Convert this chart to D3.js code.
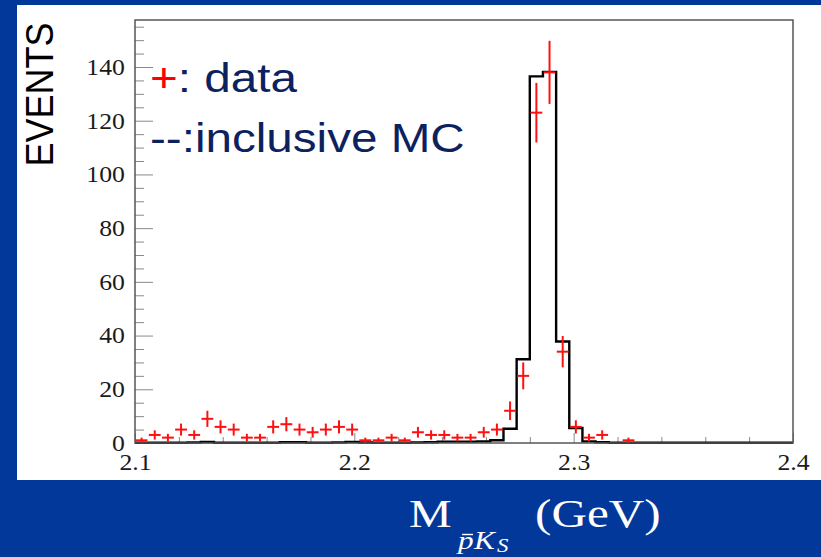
<!DOCTYPE html>
<html>
<head>
<meta charset="utf-8">
<script src="https://cdn.jsdelivr.net/npm/d3@7"></script>
<style>
  html, body { margin: 0; padding: 0; background: #03389b; overflow: hidden; }
  svg { display: block; }
</style>
</head>
<body>
<svg id="chart" width="821" height="557"></svg>
<script>
// Invariant mass histogram: 50 bins of 6 MeV between 2.1 and 2.4 GeV
const massLow = 2.1;
const massHigh = 2.4;
const binWidth = 0.006;

// Observed events per bin
const dataCounts = [
  1, 3, 2, 5, 3, 9, 6, 5, 2, 2,
  6, 7, 5, 4, 5, 6, 5, 1, 1, 2,
  1, 4, 3, 3, 2, 2, 4, 5, 12, 25,
  123, 138, 34, 6, 2, 3, 0, 1, 0, 0,
  0, 0, 0, 0, 0, 0, 0, 0, 0, 0
];

// Inclusive MC expectation per bin (normalised)
const mcCounts = [
  0.1, 0.1, 0.1, 0.1, 0.2, 0.4, 0.1, 0.1, 0.1, 0.1,
  0.1, 0.3, 0.3, 0.1, 0.1, 0.2, 0.4, 0.2, 0.1, 0.1,
  0.1, 0.2, 0.3, 0.5, 0.5, 0.5, 0.6, 1.0, 5.3, 31.2,
  136.5, 138.2, 37.8, 5.6, 0.6, 0.3, 0.1, 0.1, 0.1, 0.1,
  0.1, 0.1, 0.1, 0.1, 0.1, 0.1, 0.1, 0.1, 0.1, 0.1
];

const xMajorTicks = [2.1, 2.2, 2.3, 2.4];
const xMinorTicks = [2.12, 2.14, 2.16, 2.18, 2.22, 2.24, 2.26, 2.28, 2.32, 2.34, 2.36, 2.38];
const yMajorTicks = [0, 20, 40, 60, 80, 100, 120, 140];
const yMinorTicks = [5, 10, 15, 25, 30, 35, 45, 50, 55, 65, 70, 75, 85, 90, 95,
                     105, 110, 115, 125, 130, 135, 145, 150, 155];

const yLabel = "EVENTS";
const legendData = ": data";
const legendMC = "--:inclusive MC";

const svg = d3.select("#chart");
const W = 821, H = 557;
const stretch = 1.12;   // slide text is set slightly wide

// Slide background and white figure panel
svg.append("rect").attr("x", 0).attr("y", 0).attr("width", W).attr("height", H).attr("fill", "#03389b");
svg.append("rect").attr("x", 17).attr("y", 5).attr("width", 804).attr("height", 475).attr("fill", "#ffffff");

const frame = { left: 135, right: 793, top: 20, bottom: 443 };
const x = d3.scaleLinear().domain([massLow, massHigh]).range([frame.left, frame.right]);
const y = d3.scaleLinear().domain([0, 157.5]).range([frame.bottom, frame.top]);

// --- axes ---
const axisColor = "#8a8a8a";
const gx = svg.append("g").attr("transform", `translate(0,${frame.bottom})`);
gx.append("g").call(d3.axisBottom(x).tickValues(xMinorTicks).tickSize(-6).tickFormat(""))
  .call(g => g.select(".domain").remove());
gx.append("g").call(d3.axisBottom(x).tickValues(xMajorTicks).tickSize(-10).tickPadding(11)
    .tickFormat(d3.format(".1f")))
  .call(g => g.select(".domain").remove());
gx.selectAll("line").attr("stroke", axisColor).attr("stroke-width", 1);

const gy = svg.append("g").attr("transform", `translate(${frame.left},0)`);
gy.append("g").call(d3.axisLeft(y).tickValues(yMinorTicks).tickSize(-9).tickFormat(""))
  .call(g => g.select(".domain").remove());
gy.append("g").call(d3.axisLeft(y).tickValues(yMajorTicks).tickSize(-18).tickPadding(9)
    .tickFormat(d3.format("d")))
  .call(g => g.select(".domain").remove());
gy.selectAll("line").attr("stroke", axisColor).attr("stroke-width", 1);

svg.selectAll(".tick text")
  .attr("font-family", "'Liberation Serif', 'Times New Roman', serif")
  .attr("font-size", 23)
  .attr("fill", "#1a1a1a")
  .attr("transform", `scale(${stretch},1)`);

// --- inclusive MC histogram (step outline) ---
const edges = mcCounts.map((v, i) => [massLow + i * binWidth, v]);
edges.push([massHigh, mcCounts[mcCounts.length - 1]]);
const stepLine = d3.line().x(d => x(d[0])).y(d => y(d[1])).curve(d3.curveStepAfter);
svg.append("path")
  .attr("d", stepLine(edges))
  .attr("fill", "none")
  .attr("stroke", "#000")
  .attr("stroke-width", 2.4)
  .attr("stroke-linejoin", "miter");

// --- data points with sqrt(N) error bars ---
const points = dataCounts
  .map((n, i) => ({ m: massLow + (i + 0.5) * binWidth, n }))
  .filter(d => d.n > 0);
const halfW = binWidth * 0.45;
const gData = svg.append("g").attr("stroke", "#ff1010").attr("stroke-width", 2);
gData.selectAll("line.h").data(points).join("line").attr("class", "h")
  .attr("x1", d => x(d.m - halfW)).attr("x2", d => x(d.m + halfW))
  .attr("y1", d => y(d.n)).attr("y2", d => y(d.n));
gData.selectAll("line.v").data(points).join("line").attr("class", "v")
  .attr("x1", d => x(d.m)).attr("x2", d => x(d.m))
  .attr("y1", d => y(d.n - Math.sqrt(d.n))).attr("y2", d => y(d.n + Math.sqrt(d.n)));

// --- frame ---
svg.append("rect")
  .attr("x", frame.left).attr("y", frame.top)
  .attr("width", frame.right - frame.left).attr("height", frame.bottom - frame.top)
  .attr("fill", "none").attr("stroke", "#555").attr("stroke-width", 1.5);

// --- legend text ---
const legendFont = "'Liberation Sans', Arial, sans-serif";
const navy = "#0c225e";
const l1 = svg.append("text")
  .attr("transform", `translate(150,92) scale(1.19,1)`)
  .attr("font-family", legendFont).attr("font-size", 40);
l1.append("tspan").attr("fill", "#ff0000").text("+");
l1.append("tspan").attr("fill", navy).text(legendData);
svg.append("text")
  .attr("transform", `translate(150,152) scale(1.19,1)`)
  .attr("font-family", legendFont).attr("font-size", 40)
  .attr("fill", navy).text(legendMC);

// --- y axis title ---
svg.append("text")
  .attr("transform", `translate(52.5,94.5) scale(1.1,1) rotate(-90)`)
  .attr("font-family", legendFont).attr("font-size", 36)
  .attr("text-anchor", "middle").attr("fill", "#000")
  .text(yLabel);

// --- x axis title: M_{p̄ K_S} (GeV) ---
const serif = "'Liberation Serif', 'Times New Roman', serif";
const tStretch = 1.2;
function label(tx, ty, size, txt, italic) {
  return svg.append("text")
    .attr("transform", `translate(${tx},${ty}) scale(${tStretch},1)`)
    .attr("font-family", serif).attr("font-size", size)
    .attr("font-style", italic ? "italic" : "normal")
    .attr("fill", "#fff").text(txt);
}
label(409, 527, 40, "M", false);
label(458, 549, 26, "p", true);
label(474, 549, 26, "K", true);
label(497, 552, 19, "S", true);
label(535, 527, 41, "(GeV)", false);
// bar over the antiproton symbol
svg.append("line")
  .attr("x1", 462).attr("x2", 473).attr("y1", 534.5).attr("y2", 534.5)
  .attr("stroke", "#fff").attr("stroke-width", 1.4);
</script>
</body>
</html>
